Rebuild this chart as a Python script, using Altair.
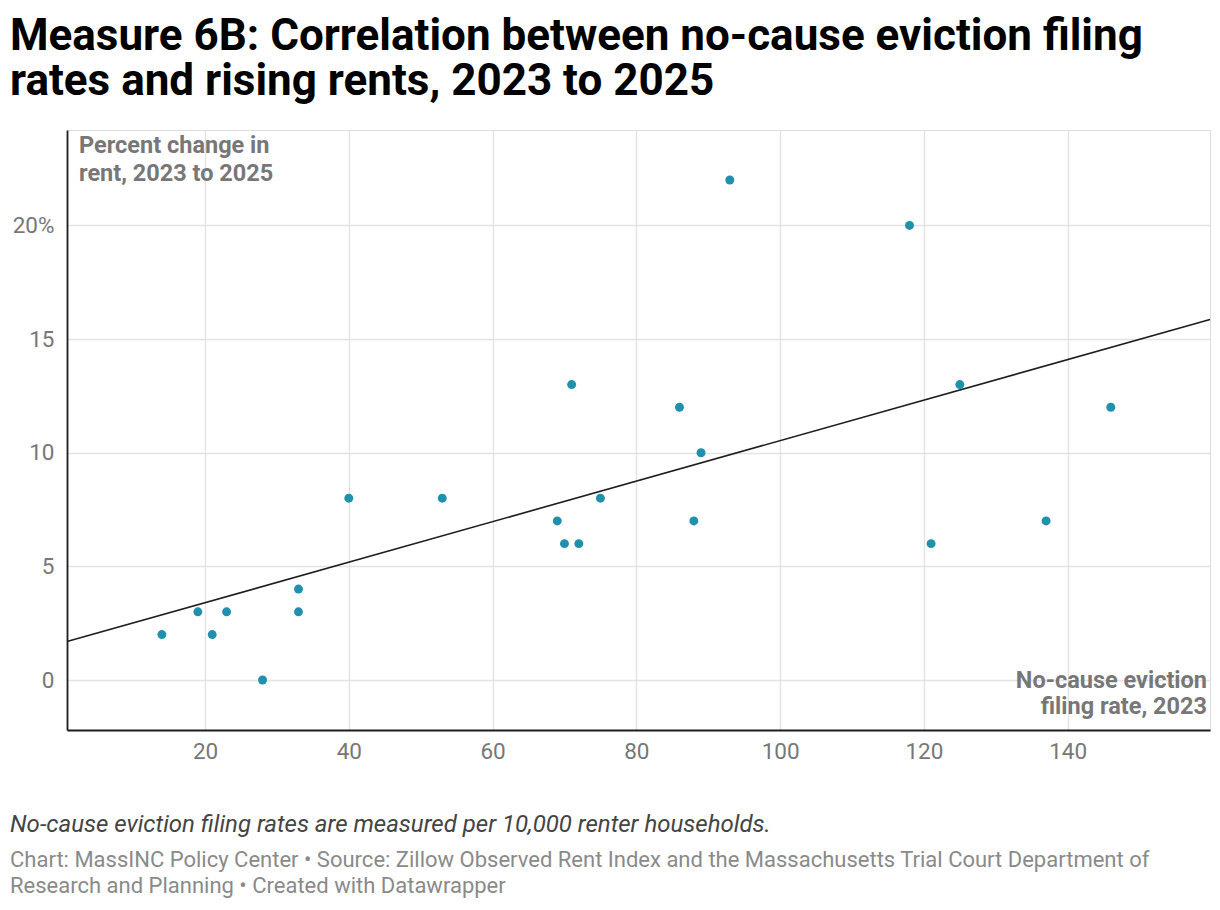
import altair as alt
import pandas as pd

# Data
eviction_rate = [14, 19, 21, 23, 28, 33, 33, 40, 53, 69, 70, 71, 72, 75, 86, 88, 89, 93, 118, 121, 125, 137, 146]
rent_change = [2, 3, 2, 3, 0, 4, 3, 8, 8, 7, 6, 13, 6, 8, 12, 7, 10, 22, 20, 6, 13, 7, 12]
x_ticks = [20, 40, 60, 80, 100, 120, 140]
y_ticks = [0, 5, 10, 15, 20]

title_lines = "Measure 6B: Correlation between no-cause eviction filing\nrates and rising rents, 2023 to 2025"
y_label = "Percent change in\nrent, 2023 to 2025"
x_label = "No-cause eviction\nfiling rate, 2023"
note = "No-cause eviction filing rates are measured per 10,000 renter households."
credits = ("Chart: MassINC Policy Center \u2022 Source: Zillow Observed Rent Index and the Massachusetts Trial Court Department of\n"
           "Research and Planning \u2022 Created with Datawrapper")

df = pd.DataFrame({"x": eviction_rate, "y": rent_change})

W, H = 1143, 600
FONT = "Roboto"

xscale = alt.Scale(domain=[0.8, 159.8], nice=False, zero=False)
yscale = alt.Scale(domain=[-2.2, 24.2], nice=False, zero=False)

xaxis = alt.Axis(values=x_ticks, title=None, grid=True, gridColor="#e3e3e3", gridWidth=1.4,
                 domainColor="#1d1d1d", domainWidth=1.8, ticks=False, labelPadding=10,
                 labelFont=FONT, labelFontSize=22.5, labelColor="#777777")
yaxis = alt.Axis(values=y_ticks, title=None, grid=True, gridColor="#e3e3e3", gridWidth=1.4,
                 domainColor="#1d1d1d", domainWidth=1.8, ticks=False, labelPadding=13,
                 labelFont=FONT, labelFontSize=22.5, labelColor="#777777",
                 labelExpr="datum.value == 20 ? '20%' : datum.label")

base = alt.Chart(df)

points = base.mark_circle(size=80, color="#2190ad", opacity=1).encode(
    x=alt.X("x:Q", scale=xscale, axis=xaxis),
    y=alt.Y("y:Q", scale=yscale, axis=yaxis),
)

trend = base.transform_regression("x", "y", extent=[0.8, 159.8]).mark_line(
    color="#1d1d1d", strokeWidth=1.6
).encode(x=alt.X("x:Q", scale=xscale), y=alt.Y("y:Q", scale=yscale))

def text_layer(txt, x, y, **kw):
    return alt.Chart(pd.DataFrame({"t": [txt]})).mark_text(
        lineBreak="\n", baseline="alphabetic", font=FONT, **kw
    ).encode(x=alt.value(x), y=alt.value(y), text="t:N")

title = text_layer(title_lines, -57, -80.5, align="left", fontSize=44, fontWeight="bold",
                   color="#000000", lineHeight=45)
ylab = text_layer(y_label, 12, 23, align="left", fontSize=23.5, fontWeight="bold",
                  color="#777777", lineHeight=28)
xlab = text_layer(x_label, 1140, 558, align="right", fontSize=23.5, fontWeight="bold",
                  color="#777777", lineHeight=26)
note_t = text_layer(note, -57, 702, align="left", fontSize=24, fontStyle="italic",
                    color="#444444")
cred_t = text_layer(credits, -57, 736.5, align="left", fontSize=22, color="#8a8a8a",
                    lineHeight=26)

chart = alt.layer(trend, points, title, ylab, xlab, note_t, cred_t).properties(
    width=W, height=H,
    autosize=alt.AutoSizeParams(type="none"),
    padding={"left": 59, "top": 122, "right": 2, "bottom": 172},
).configure_view(stroke=None).configure(background="white")

chart.save("out.html", embed_options={"renderer": "svg", "actions": False})
